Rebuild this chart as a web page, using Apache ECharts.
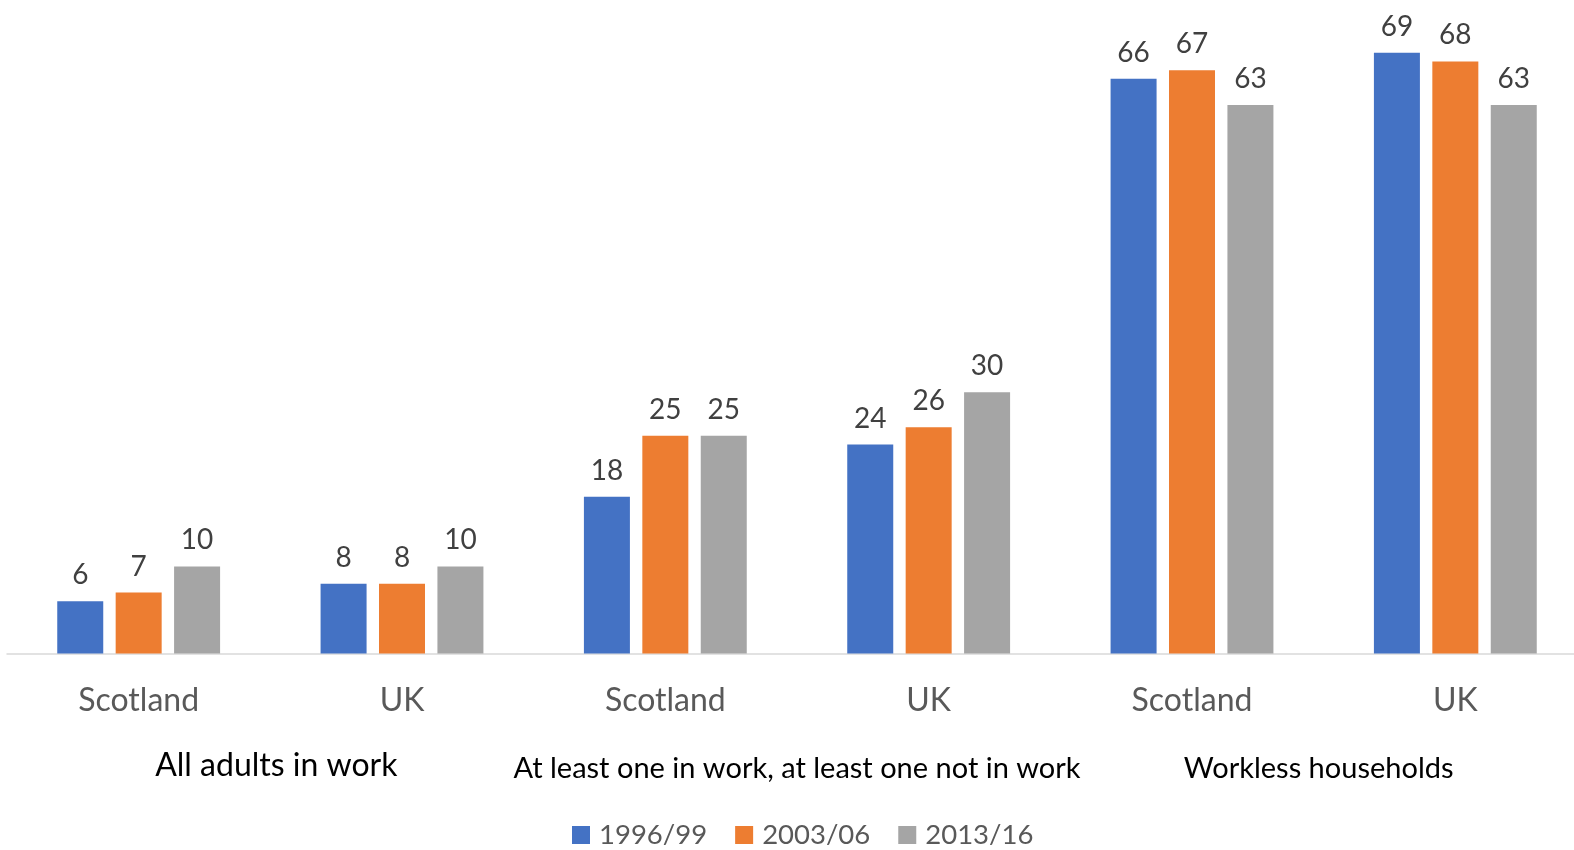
<!DOCTYPE html>
<html>
<head>
<meta charset="utf-8">
<script src="https://cdn.jsdelivr.net/npm/echarts@6/dist/echarts.min.js"></script>
<style>
  html, body { margin: 0; padding: 0; background: #fff; }
  #chart { width: 1574px; height: 850px; }
</style>
</head>
<body>
<div id="chart"></div>
<script>
// Household work status: share of people by region and period
const regions = ['Scotland', 'UK', 'Scotland', 'UK', 'Scotland', 'UK'];
const groups = ['All adults in work', 'At least one in work, at least one not in work', 'Workless households'];
const seriesNames = ['1996/99', '2003/06', '2013/16'];
const values1996 = [6, 8, 18, 24, 66, 69];
const values2003 = [7, 8, 25, 26, 67, 68];
const values2013 = [10, 10, 25, 30, 63, 63];
const colors = ['#4472C4', '#ED7D31', '#A5A5A5'];

const FONT = 'Lato, "Open Sans", sans-serif';
const chart = echarts.init(document.getElementById('chart'));

const makeSeries = (name, data, color) => ({
  name: name,
  type: 'bar',
  xAxisIndex: 0,
  data: data,
  barWidth: 46,
  barGap: '27%',
  itemStyle: { color: color },
  label: {
    show: true,
    position: 'top',
    distance: 12,
    color: '#404040',
    fontSize: 28,
    fontFamily: FONT
  }
});

// group captions: each set as its own text style
const groupStyles = ['g0', 'g1', 'g2'];

chart.setOption({
  animation: false,
  backgroundColor: '#fff',
  grid: {
    left: 7, width: 1580, top: 0.5, bottom: 196.5,
    containLabel: false,
    outerBoundsMode: 'none'
  },
  legend: {
    top: 816,
    left: 567,
    itemWidth: 18,
    itemHeight: 18,
    itemGap: 28,
    icon: 'rect',
    textStyle: { color: '#595959', fontSize: 27.5, fontFamily: FONT, padding: [0, 0, 0, 4] },
    data: seriesNames
  },
  xAxis: [
    {
      type: 'category',
      data: regions,
      axisLine: { show: true, lineStyle: { color: '#D9D9D9', width: 1.5 } },
      axisTick: { show: false },
      axisLabel: { color: '#595959', fontSize: 32, fontFamily: FONT, margin: 31 }
    },
    {
      type: 'category',
      position: 'bottom',
      offset: 100,
      data: groups,
      axisLine: { show: false },
      axisTick: { show: false },
      axisLabel: {
        color: '#000',
        fontFamily: FONT,
        margin: 0,
        interval: 0,
        formatter: (v, i) => '{' + groupStyles[i] + '|' + v + '}',
        rich: {
          g0: { fontSize: 32, lineHeight: 24, fontFamily: FONT, color: '#000', padding: [0, 0, 0, 12] },
          g1: { fontSize: 29, lineHeight: 30, fontFamily: FONT, color: '#000' },
          g2: { fontSize: 29, lineHeight: 30, fontFamily: FONT, color: '#000', padding: [0, 10, 0, 0] }
        }
      }
    }
  ],
  yAxis: {
    type: 'value',
    min: 0,
    max: 75,
    show: false
  },
  series: [
    makeSeries(seriesNames[0], values1996, colors[0]),
    makeSeries(seriesNames[1], values2003, colors[1]),
    makeSeries(seriesNames[2], values2013, colors[2])
  ]
});
</script>
</body>
</html>
